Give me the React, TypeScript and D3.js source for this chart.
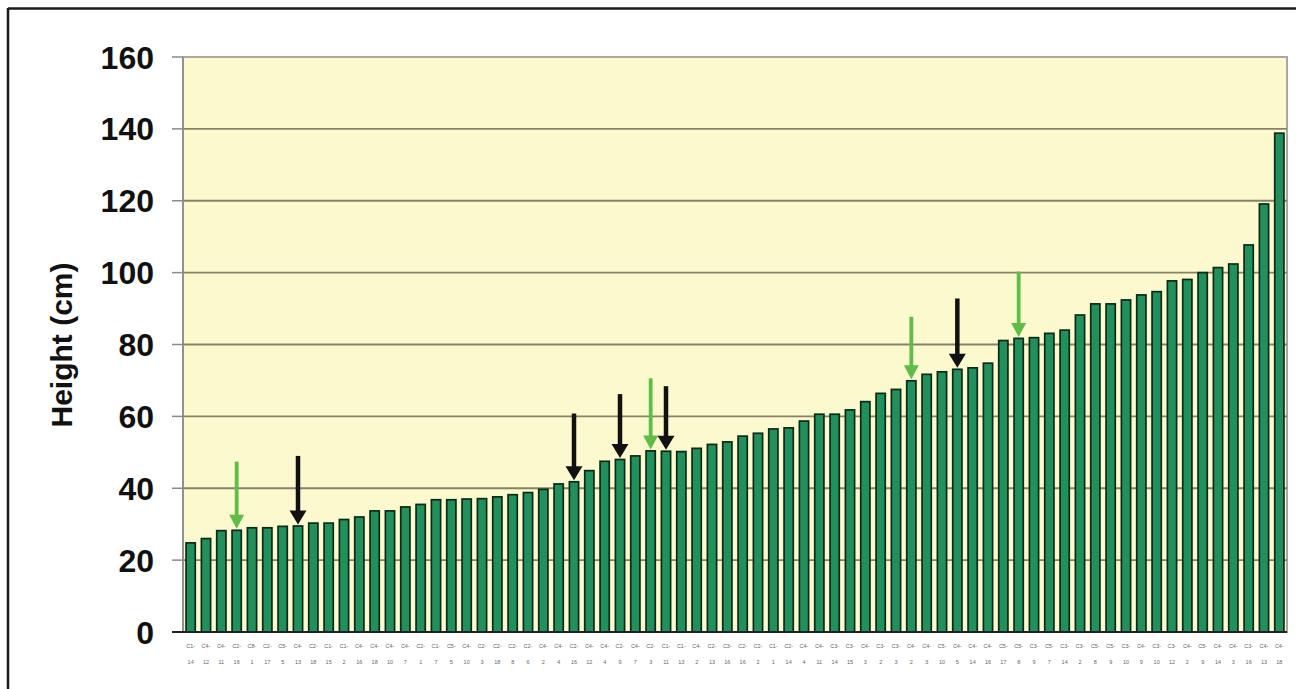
import React from "react";
import * as d3 from "d3";

// Category labels (accession codes, barely legible in the source)
const labels: string[] = [
  "C1-14","C4-12","C4-11","C2-16","C8-1","C2-17","C5-5","C4-13","C2-18","C1-15","C1-2","C4-16",
  "C4-18","C4-10","C4-7","C2-1","C1-7","C5-5","C4-10","C2-3","C2-18","C2-8","C2-6","C4-2",
  "C4-4","C2-16","C4-12","C4-4","C2-9","C4-7","C2-3","C1-11","C1-13","C4-2","C2-13","C3-16",
  "C2-16","C2-2","C1-1","C2-14","C4-4","C4-11","C3-14","C3-15","C4-3","C3-2","C3-3","C4-2",
  "C4-3","C5-10","C4-5","C4-14","C4-16","C5-17","C5-8","C3-9","C5-7","C3-14","C3-2","C5-8",
  "C5-9","C3-10","C4-9","C3-10","C3-12","C4-2","C5-9","C4-14","C4-3","C3-16","C4-13","C4-18"
];

// Plant height (cm), sorted ascending
const heights: number[] = [
  24.8, 26.0, 28.2, 28.3, 29.0, 29.0, 29.4, 29.5, 30.3, 30.3, 31.3, 32.0,
  33.7, 33.7, 34.8, 35.5, 36.8, 36.8, 37.0, 37.1, 37.6, 38.2, 38.8, 39.7,
  41.2, 41.8, 44.9, 47.5, 48.0, 49.0, 50.4, 50.3, 50.2, 51.1, 52.2, 52.9,
  54.5, 55.3, 56.5, 56.8, 58.7, 60.6, 60.6, 61.8, 64.1, 66.4, 67.5, 69.9,
  71.7, 72.4, 73.1, 73.5, 74.8, 81.1, 81.7, 81.9, 83.1, 84.0, 88.2, 91.3,
  91.3, 92.4, 93.8, 94.7, 97.7, 98.1, 100.0, 101.4, 102.4, 107.7, 119.1, 138.8
];

const yTicks: number[] = [0, 20, 40, 60, 80, 100, 120, 140, 160];

// Highlight arrows: bar index and the value where the arrow's tail starts
const greenArrowIdx: number[] = [3, 30, 47, 54];
const greenArrowTail: number[] = [47.4, 70.6, 87.7, 100.3];
const blackArrowIdx: number[] = [7, 25, 28, 31, 50];
const blackArrowTail: number[] = [49.0, 60.8, 66.2, 68.4, 92.8];

const W = 1296;
const H = 689;
const left = 183;
const right = 1287;
const top = 57;
const bottom = 632;

export default function App() {
  const x = d3
    .scaleBand<number>()
    .domain(d3.range(heights.length))
    .range([left, right])
    .paddingInner(0.4)
    .paddingOuter(0.2);
  const y = d3.scaleLinear().domain([0, 160]).range([bottom, top]);
  const bw = x.bandwidth();

  const arrow = (i: number, tail: number, color: string, shaft: number, headW: number, headH: number, key: string) => {
    const cx = (x(i) as number) + bw / 2;
    const tipY = y(heights[i]) - 1.5;
    const tailY = y(tail);
    const baseY = tipY - headH;
    return (
      <g key={key}>
        <line x1={cx} x2={cx} y1={tailY} y2={baseY + 1} stroke={color} strokeWidth={shaft} />
        <path
          d={`M${cx - headW / 2},${baseY} L${cx + headW / 2},${baseY} L${cx},${tipY} Z`}
          fill={color}
        />
      </g>
    );
  };

  return (
    <svg
      width={W}
      height={H}
      style={{ position: "absolute", left: 0, top: 0, background: "#ffffff" }}
      fontFamily="'Liberation Sans', Arial, sans-serif"
    >
      {/* outer frame */}
      <line x1={8} x2={W} y1={8.5} y2={8.5} stroke="#1a1a1a" strokeWidth={2.5} />
      <line x1={8} x2={8} y1={8} y2={H} stroke="#1a1a1a" strokeWidth={2.5} />

      {/* plot area */}
      <rect x={left} y={top} width={right - left} height={bottom - top} fill="#fcf9cf" stroke="#a8a8a0" strokeWidth={2} />

      {/* gridlines and ticks */}
      {yTicks.map((t) => (
        <g key={t}>
          {t > 0 && t < 160 && (
            <line x1={left} x2={right} y1={y(t)} y2={y(t)} stroke="#858366" strokeWidth={1.8} />
          )}
          <line x1={172} x2={left} y1={y(t)} y2={y(t)} stroke="#8a8a8a" strokeWidth={1.5} />
          <text
            x={154}
            y={y(t)}
            dy="0.36em"
            textAnchor="end"
            fontSize={32}
            fontWeight="bold"
            fill="#111"
          >
            {t}
          </text>
        </g>
      ))}

      {/* y axis line */}
      <line x1={left} x2={left} y1={top} y2={bottom} stroke="#8a8a8a" strokeWidth={1.5} />

      {/* bars */}
      {heights.map((v, i) => (
        <rect
          key={i}
          x={x(i)}
          y={y(v)}
          width={bw}
          height={bottom - y(v)}
          fill="#21905d"
          stroke="#0c2a18"
          strokeWidth={1.7}
        />
      ))}

      {/* x axis line */}
      <line x1={172} x2={right} y1={bottom} y2={bottom} stroke="#222" strokeWidth={2} />

      {/* category labels */}
      {labels.map((lab, i) => {
        const [a, b] = lab.split("-");
        const cx = (x(i) as number) + bw / 2;
        return (
          <g key={"l" + i} fontSize={5.5} fill="#666" textAnchor="middle">
            <text x={cx} y={648}>{a + "-"}</text>
            <text x={cx} y={664}>{b}</text>
          </g>
        );
      })}

      {/* arrows */}
      {greenArrowIdx.map((idx, k) => arrow(idx, greenArrowTail[k], "#5dbd45", 3.8, 15, 14, "g" + k))}
      {blackArrowIdx.map((idx, k) => arrow(idx, blackArrowTail[k], "#111111", 4.5, 17, 14, "b" + k))}

      {/* y axis title */}
      <text
        transform={`translate(72,345) rotate(-90)`}
        textAnchor="middle"
        fontSize={30}
        fontWeight="bold"
        fill="#111"
      >
        Height (cm)
      </text>
    </svg>
  );
}
